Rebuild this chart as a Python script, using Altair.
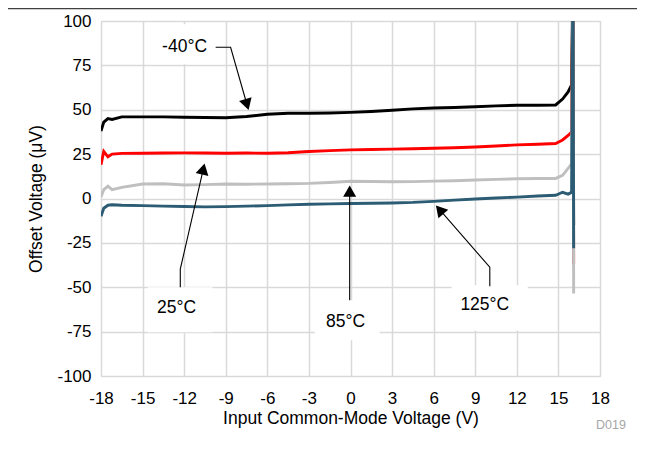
import altair as alt
import pandas as pd

# Input common-mode voltage (V)
vcm = [-18, -17.8, -17.5, -17.2, -16.5, -15, -13.5, -12, -10.5, -9, -7.5, -6, -4.5, -3, -1.5,
       0, 1.5, 3, 4.5, 6, 7.5, 9, 10.5, 12, 13.5, 14.8, 15.3, 15.7, 15.95, 16.05, 16.1]
# Offset voltage (uV) per temperature
t_m40 = [38, 43, 45, 44.5, 46, 46, 46, 45.8, 45.6, 45.5, 46.2, 47.5, 48, 48, 48.2,
         48.5, 49, 49.7, 50.5, 51, 51.3, 51.7, 52.2, 52.5, 52.5, 52.7, 56, 60, 64, 130, -15]
t_25 = [19, 26.5, 23.5, 25, 25.4, 25.5, 25.6, 25.7, 25.6, 25.5, 25.6, 25.5, 25.8, 26.5, 27,
        27.4, 27.6, 27.8, 28, 28.3, 28.6, 29, 29.6, 30.2, 30.6, 31, 33, 35.5, 37.5, 130, -37]
t_85 = [1, 5, 7, 5, 6.3, 8.2, 8.3, 7.6, 7.8, 8.2, 8, 8.2, 8.3, 8.5, 9,
        9.7, 9.6, 9.4, 9.5, 9.8, 10, 10.4, 10.8, 11.1, 11.3, 11.3, 13, 17, 19.5, 130, -53.5]
t_125 = [-10, -5.5, -3.8, -3.5, -3.8, -4, -4.3, -4.5, -4.7, -4.6, -4.3, -4, -3.6, -3.2, -3,
         -2.8, -2.7, -2.5, -2.2, -1.6, -0.9, -0.3, 0.3, 0.8, 1.4, 1.8, 3.5, 2.5, 3.5, 130, -28]

series_names = ["-40°C", "25°C", "85°C", "125°C"]
series_vals = [t_m40, t_25, t_85, t_125]
series_colors = ["#000000", "#ff0000", "#bfbfbf", "#2b5c74"]

x_ticks = list(range(-18, 19, 3))
y_ticks = list(range(-100, 101, 25))

# Annotation labels (data coordinates)
ann_text = ["-40°C", "25°C", "85°C", "125°C"]
ann_tx = [-11.97, -12.55, -0.35, 9.69]
ann_ty = [85.2, -61.8, -69.3, -60.1]
# label backing boxes
box_x1 = [-14.79, -14.64, -2.58, 7.30]
box_x2 = [-9.16, -9.95, 2.11, 12.79]
box_y1 = [98.2, -50.0, -57.3, -48.9]
box_y2 = [75.7, -75.3, -79.9, -74.3]
# leader lines (polyline vertices)
lead_v = [[-9.73, -8.65, -7.47], [-12.28, -12.28, -10.62], [-0.06, -0.06], [10.05, 10.05, 6.43]]
lead_mv = [[85.2, 85.2, 52.96], [-50.0, -39.8, 16.6], [-57.3, 4.1], [-49.5, -38.7, -6.3]]
# arrowhead angles (deg)
head_ang = [163, 13, 0, 319]

font = "Liberation Sans"

rows = []
for name, vals in zip(series_names, series_vals):
    for v, m in zip(vcm, vals):
        rows.append({"series": name, "v": v, "mv": m})
df = pd.DataFrame(rows)

box_df = pd.DataFrame({"v": box_x1, "v2": box_x2, "mv": box_y1, "mv2": box_y2})
txt_df = pd.DataFrame({"v": ann_tx, "mv": ann_ty, "t": ann_text})
lead_rows = []
for i, (vs, ms) in enumerate(zip(lead_v, lead_mv)):
    for k, (v, m) in enumerate(zip(vs, ms)):
        lead_rows.append({"arrow": i, "k": k, "v": v, "mv": m})
lead_df = pd.DataFrame(lead_rows)
head_df = pd.DataFrame({"v": [a[-1] for a in lead_v], "mv": [a[-1] for a in lead_mv], "ang": head_ang})

xscale = alt.Scale(domain=[-18, 18], nice=False, zero=False)
yscale = alt.Scale(domain=[-100, 100], nice=False, zero=False)

xenc = alt.X("v:Q", scale=xscale,
             axis=alt.Axis(values=x_ticks, title="Input Common-Mode Voltage (V)", ticks=False,
                           domain=False, labelFontSize=17, labelPadding=14, labelColor="black",
                           labelExpr="'' + datum.value",
                           titleFontSize=17.5, titleFontWeight="normal", titleColor="black",
                           titleY=33, titleBaseline="top",
                           grid=True, gridColor="#d9d9d9", gridWidth=1.5, labelFlush=False))
yenc = alt.Y("mv:Q", scale=yscale,
             axis=alt.Axis(values=y_ticks, title="Offset Voltage (μV)", ticks=False, domain=False,
                           labelFontSize=17, labelPadding=10, labelColor="black",
                           labelExpr="'' + datum.value",
                           titleFontSize=17.5, titleFontWeight="normal", titleColor="black",
                           titleX=-56, titleY=177.5, titleAngle=270, titleBaseline="bottom",
                           titleAlign="center",
                           grid=True, gridColor="#d9d9d9", gridWidth=1.5, labelFlush=False))

boxes = alt.Chart(box_df).mark_rect(color="white").encode(
    x=xenc, x2="v2:Q", y=yenc, y2="mv2:Q")

layers = [boxes]
for name, col in zip(series_names, series_colors):
    layers.append(
        alt.Chart(df).transform_filter(alt.datum.series == name)
        .mark_line(color=col, strokeWidth=2.9, clip=True)
        .encode(x="v:Q", y="mv:Q")
    )

leads = alt.Chart(lead_df).mark_line(color="black", strokeWidth=1.1).encode(
    x="v:Q", y="mv:Q", detail="arrow:N", order="k:Q")
heads = alt.Chart(head_df).mark_point(shape="triangle-up", filled=True, size=170,
                                      color="black", opacity=1).encode(
    x="v:Q", y="mv:Q", angle=alt.Angle("ang:Q", scale=None))
labels = alt.Chart(txt_df).mark_text(font=font, fontSize=17.5, color="black").encode(
    x="v:Q", y="mv:Q", text="t:N")

one = pd.DataFrame({"a": [0]})
code_lbl = alt.Chart(one).mark_text(text="D019", font=font, fontSize=12.5, color="#a6a6a6").encode(
    x=alt.value(510), y=alt.value(404))
top_rule = alt.Chart(one).mark_rule(color="#404040", strokeWidth=1.5).encode(
    x=alt.value(-93), x2=alt.value(536), y=alt.value(-12.5))

layers += [leads, heads, labels, code_lbl, top_rule]

chart = alt.layer(*layers).properties(
    width=499, height=355,
    padding={"left": 93, "top": 13, "right": 45, "bottom": 80},
    autosize=alt.AutoSizeParams(type="none"),
).configure_view(
    stroke="black", strokeWidth=3
).configure(
    font=font, background="white"
)

chart.save("out.html", embed_options={"renderer": "svg", "actions": False})
